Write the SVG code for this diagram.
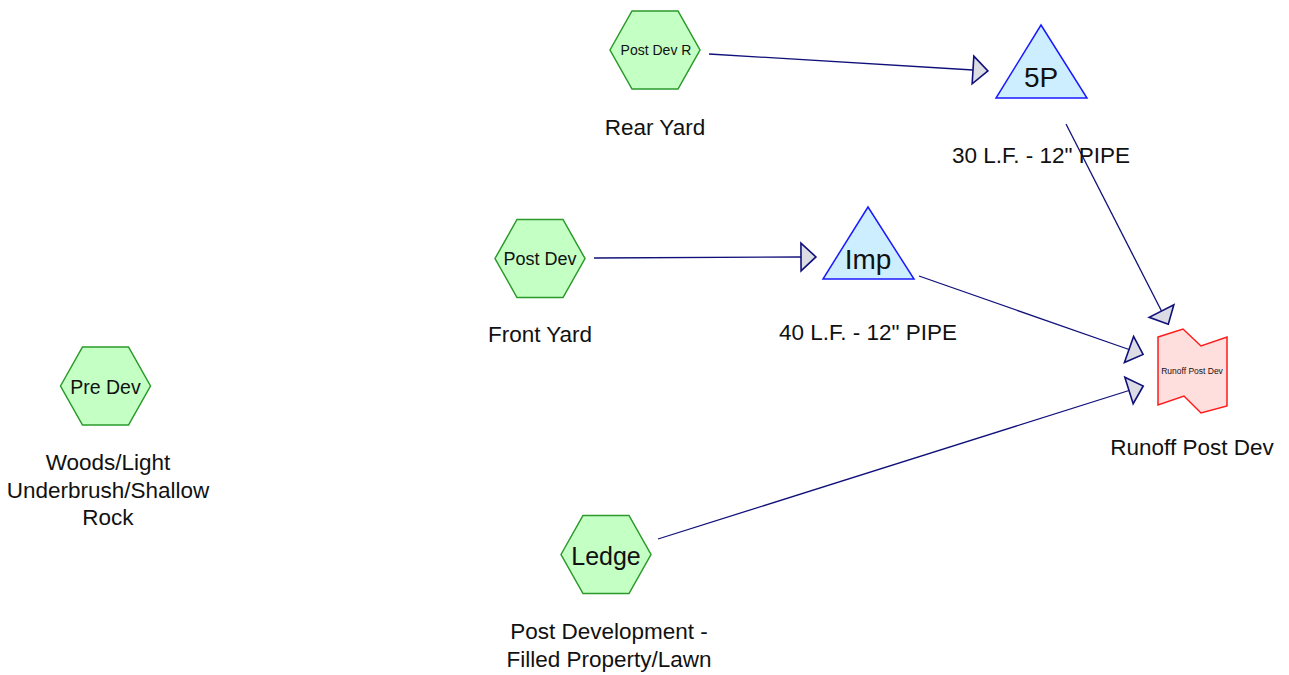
<svg xmlns="http://www.w3.org/2000/svg" width="1289" height="675" viewBox="0 0 1289 675">
  <style>
    .hex { fill: #c4ffc4; stroke: #2a9a2a; stroke-width: 1.5; }
    .tri { fill: #cdeefe; stroke: #1a1aff; stroke-width: 1.5; }
    .reach { fill: #ffdede; stroke: #ff1a1a; stroke-width: 1.5; }
    .edge { fill: none; stroke: #10107a; stroke-width: 1.3; marker-end: url(#arrow); }
    text { font-family: "Liberation Sans", Arial, sans-serif; fill: #111; text-anchor: middle; }
    .lbl { font-size: 22.5px; }
  </style>
  <defs>
    <marker id="arrow" markerUnits="userSpaceOnUse" markerWidth="20" markerHeight="32" viewBox="-2 -15 18 30" refX="0" refY="0" orient="auto">
      <path d="M0,-13 L14,0 L0,13 Z" fill="#dcdce4" stroke="#10107a" stroke-width="1.5"/>
    </marker>
  </defs>

  <g id="connectors">
    <line class="edge" x1="709" y1="54" x2="973" y2="70"/>
    <line class="edge" x1="1066" y1="124" x2="1161.5" y2="311"/>
    <line class="edge" x1="594" y1="258" x2="801" y2="257"/>
    <line class="edge" x1="919" y1="276" x2="1129" y2="349.5"/>
    <line class="edge" x1="658" y1="539" x2="1129" y2="390.5"/>
  </g>

  <g id="node-postdevr">
    <polygon class="hex" transform="translate(655,50)" points="-45,0 -23,-39 23,-39 45,0 23,39 -23,39"/>
    <text x="656" y="55" font-size="14">Post Dev R</text>
    <text class="lbl" x="655" y="135">Rear Yard</text>
  </g>

  <g id="node-5p">
    <polygon class="tri" points="1041,25 1087,98 996,98"/>
    <text x="1041" y="87" font-size="28">5P</text>
    <text class="lbl" x="1041" y="162.5">30 L.F. - 12" PIPE</text>
  </g>

  <g id="node-postdev">
    <polygon class="hex" transform="translate(540,258.5)" points="-45,0 -23,-39 23,-39 45,0 23,39 -23,39"/>
    <text x="540" y="265" font-size="18">Post Dev</text>
    <text class="lbl" x="540" y="342">Front Yard</text>
  </g>

  <g id="node-imp">
    <polygon class="tri" points="868,207 914,279 823,279"/>
    <text x="868" y="269" font-size="28">Imp</text>
    <text class="lbl" x="868" y="340">40 L.F. - 12" PIPE</text>
  </g>

  <g id="node-predev">
    <polygon class="hex" transform="translate(105.5,386)" points="-45,0 -23,-39 23,-39 45,0 23,39 -23,39"/>
    <text x="105.5" y="393.5" font-size="19.5">Pre Dev</text>
    <text class="lbl" x="108" y="470">Woods/Light</text>
    <text class="lbl" x="108" y="497.5">Underbrush/Shallow</text>
    <text class="lbl" x="108" y="525">Rock</text>
  </g>

  <g id="node-ledge">
    <polygon class="hex" transform="translate(606,554.5)" points="-45,0 -23,-39 23,-39 45,0 23,39 -23,39"/>
    <text x="606" y="564.5" font-size="25">Ledge</text>
    <text class="lbl" x="609" y="639">Post Development -</text>
    <text class="lbl" x="609" y="666.5">Filled Property/Lawn</text>
  </g>

  <g id="node-runoff">
    <polygon class="reach" points="1158,337 1183,329 1201,346 1227,337 1227,406 1201,413 1184,396 1158,405"/>
    <text x="1192" y="374" font-size="8.5">Runoff Post Dev</text>
    <text class="lbl" x="1192" y="455">Runoff Post Dev</text>
  </g>
</svg>
